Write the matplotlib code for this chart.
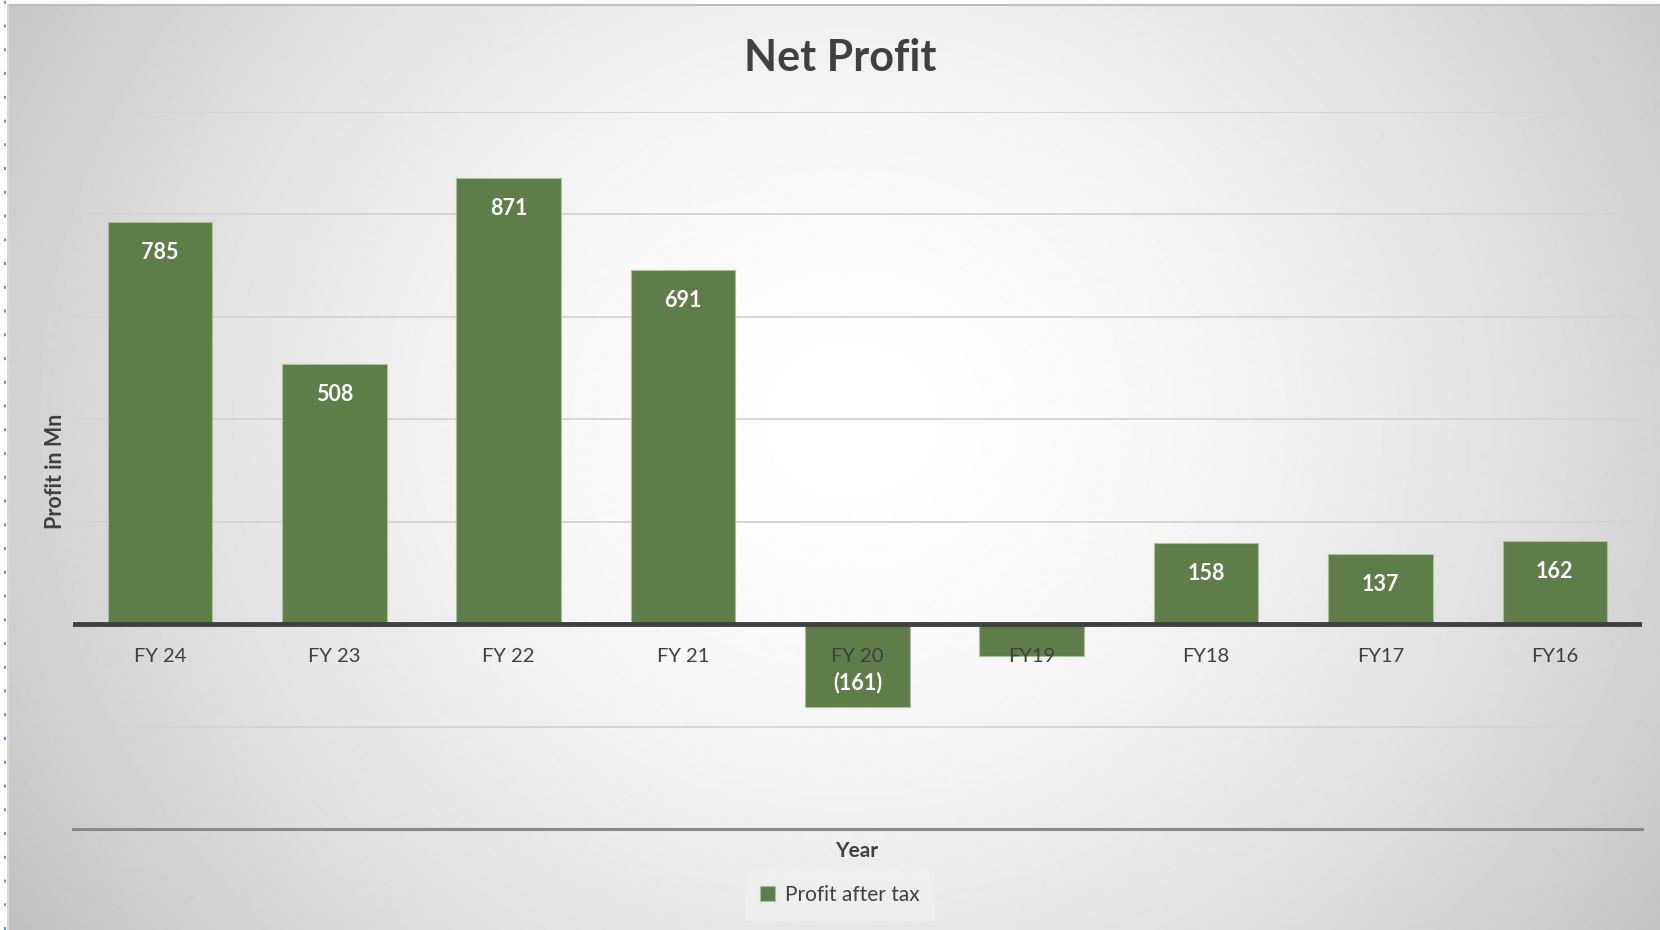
import numpy as np
import matplotlib
matplotlib.use("Agg")
import matplotlib.pyplot as plt
from matplotlib.lines import Line2D

# Data
years = ['FY 24', 'FY 23', 'FY 22', 'FY 21', 'FY 20', 'FY19', 'FY18', 'FY17', 'FY16']
profit = [785, 508, 871, 691, -161, -62, 158, 137, 162]
hidden_labels = ['FY19']  # no data label shown in the source chart

BAR_COLOR = '#5E7D48'
TEXT_COLOR = '#404040'

plt.rcParams['font.family'] = ['Lato', 'DejaVu Sans']

W, H = 1660, 930
fig = plt.figure(figsize=(W / 100, H / 100), dpi=100)
fig.patch.set_facecolor('white')

# Radial gradient background (chart area)
x0 = 8
top_gap = 5
bg = fig.add_axes([x0 / W, 0, 1 - x0 / W, 1 - top_gap / H], zorder=0)
xx, yy = np.meshgrid(np.arange(x0, W), np.arange(top_gap, H))
r = np.sqrt(((xx - 850) / 1000.0) ** 2 + ((yy - 420) / 900.0) ** 2)
shade = 1 - 0.24 * np.clip(r, 0, 1) ** 1.7
bg.imshow(shade, cmap='gray', vmin=0, vmax=1, aspect='auto',
          extent=[0, 1, 0, 1], interpolation='bilinear')
bg.axis('off')

# border lines and dotted selection edge
fig.add_artist(Line2D([x0 / W, 1], [1 - top_gap / H] * 2, color='#bdbdbd', lw=1.5))
fig.add_artist(Line2D([x0 / W] * 2, [0, 1 - top_gap / H], color='#d8d8d8', lw=1.5))
fig.add_artist(Line2D([5 / W] * 2, [0, 1], color='#5b9bd5', lw=1.5,
                      linestyle=(0, (1.4, 10))))

# Main axes
ax = fig.add_axes([72.7 / W, 1 - 829 / H, (1642 - 72.7) / W, (829 - 112) / H],
                  zorder=1)
ax.set_facecolor('none')
x = np.arange(len(years))
bars = ax.bar(x, profit, width=0.6, color=BAR_COLOR, edgecolor='#a9c29a',
              linewidth=0.8, zorder=3)

ax.set_xlim(-0.5, len(years) - 0.5)
ax.set_ylim(-400, 1000)
ax.set_yticks(np.arange(-400, 1001, 200))
ax.yaxis.grid(True, color='#d4d4d4', linewidth=1.3, zorder=0)
ax.set_axisbelow(True)
ax.tick_params(left=False, labelleft=False, bottom=False, labelbottom=False)
for side in ['top', 'left', 'right']:
    ax.spines[side].set_visible(False)
ax.spines['bottom'].set_color('#8a8a8a')
ax.spines['bottom'].set_linewidth(2.2)

# zero axis line
ax.axhline(0, color='#404040', linewidth=3.5, zorder=4)

# category labels along the zero line
for xi, name in zip(x, years):
    ax.annotate(name, xy=(xi, 0), xytext=(0, -17), textcoords='offset points',
                ha='center', va='top', fontsize=14.5, color=TEXT_COLOR, zorder=5)

# data labels inside the bar ends
for xi, name, v in zip(x, years, profit):
    if name in hidden_labels:
        continue
    txt = f'{v}' if v >= 0 else f'({abs(v)})'
    off = -22 if v >= 0 else 17
    ax.annotate(txt, xy=(xi, v), xytext=(0, off), textcoords='offset points',
                ha='center', va='center', fontsize=15.5, fontweight='bold',
                color='white', zorder=6)

# titles
fig.text(840 / W, 1 - 58 / H, 'Net Profit', ha='center', va='center',
         fontsize=31, fontweight='bold', color=TEXT_COLOR)
fig.text(55 / W, 1 - 471 / H, 'Profit in Mn', ha='center', va='center',
         rotation=90, fontsize=15.5, fontweight='bold', color=TEXT_COLOR)
fig.text(857 / W, 1 - 851 / H, 'Year', ha='center', va='center',
         fontsize=15, fontweight='bold', color=TEXT_COLOR)

# legend
leg = fig.legend([bars], ['Profit after tax'], loc='center',
                 bbox_to_anchor=(840 / W, 1 - 895 / H), fontsize=15,
                 frameon=True, fancybox=False, handlelength=0.7,
                 handleheight=0.7, handletextpad=0.5, borderpad=0.75,
                 borderaxespad=0)
leg.get_frame().set_facecolor('#f0f0f0')
leg.get_frame().set_edgecolor('none')
leg.get_frame().set_alpha(0.8)
for t in leg.get_texts():
    t.set_color(TEXT_COLOR)

fig.savefig('out.png', dpi=100)
